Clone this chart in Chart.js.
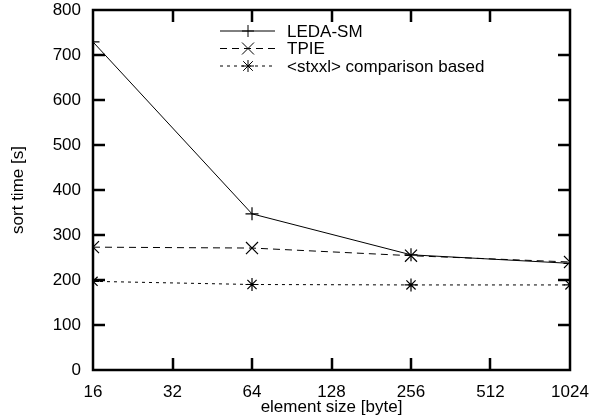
<!DOCTYPE html>
<html>
<head>
<meta charset="utf-8">
<script src="https://cdn.jsdelivr.net/npm/chart.js@4/dist/chart.umd.min.js"></script>
<style>
  html, body { margin: 0; padding: 0; background: #fff; }
  #wrap { width: 590px; height: 418px; }
</style>
</head>
<body>
<div id="wrap"><canvas id="c" width="590" height="418"></canvas></div>
<script>
const elementSizes = [16, 64, 256, 1024];
const xTicks = [16, 32, 64, 128, 256, 512, 1024];
const yTicks = [0, 100, 200, 300, 400, 500, 600, 700, 800];
const ledaSm = [729, 347, 256, 237];
const tpie = [273, 271, 254, 240];
const stxxl = [197, 190, 189, 189];

const FONT = "'Liberation Sans', Arial, Helvetica, sans-serif";

const series = [
  { label: "LEDA-SM", data: ledaSm, dash: [], style: "cross", radius: 6.5 },
  { label: "TPIE", data: tpie, dash: [7, 5], style: "crossRot", radius: 8.5 },
  { label: "<stxxl> comparison based", data: stxxl, dash: [3, 4], style: "star", radius: 6.5 },
];

function drawMarker(ctx, style, x, y, r) {
  ctx.beginPath();
  if (style === "cross" || style === "star") {
    ctx.moveTo(x - r, y); ctx.lineTo(x + r, y);
    ctx.moveTo(x, y - r); ctx.lineTo(x, y + r);
  }
  if (style === "crossRot" || style === "star") {
    const d = style === "star" ? r * 0.8 : r;
    ctx.moveTo(x - d, y - d); ctx.lineTo(x + d, y + d);
    ctx.moveTo(x - d, y + d); ctx.lineTo(x + d, y - d);
  }
  ctx.stroke();
}

// frame with inward ticks on all four sides, plus the key
const framePlugin = {
  id: "frame",
  afterDraw(chart) {
    const ctx = chart.ctx;
    const a = chart.chartArea;
    const xs = chart.scales.x;
    const ys = chart.scales.y;
    const L = Math.round(a.left), R = Math.round(a.right);
    const T = Math.round(a.top), B = Math.round(a.bottom);
    const t = 12;
    ctx.save();
    ctx.setLineDash([]);
    ctx.strokeStyle = "#000";
    ctx.lineWidth = 2.5;
    ctx.lineCap = "butt";
    ctx.beginPath();
    ctx.rect(L, T, R - L, B - T);
    for (const v of yTicks) {
      const y = Math.round(ys.getPixelForValue(v));
      ctx.moveTo(L, y); ctx.lineTo(L + t, y);
      ctx.moveTo(R, y); ctx.lineTo(R - t, y);
    }
    for (const v of xTicks) {
      const x = Math.round(xs.getPixelForValue(v));
      ctx.moveTo(x, B); ctx.lineTo(x, B - t);
      ctx.moveTo(x, T); ctx.lineTo(x, T + t);
    }
    ctx.stroke();

    // key
    const x0 = 220, x1 = 275, xm = 248, xt = 287;
    const rows = [31, 48.5, 66];
    ctx.font = "17px " + FONT;
    ctx.textBaseline = "middle";
    ctx.textAlign = "left";
    ctx.fillStyle = "#000";
    series.forEach((s, i) => {
      const y = rows[i];
      ctx.lineWidth = 1;
      ctx.setLineDash(s.dash);
      ctx.beginPath();
      ctx.moveTo(x0, y); ctx.lineTo(x1, y);
      ctx.stroke();
      ctx.setLineDash([]);
      drawMarker(ctx, s.style, xm, y, 6);
      ctx.fillText(s.label, xt, y + 1);
    });
    ctx.restore();
  },
};

new Chart(document.getElementById("c"), {
  type: "line",
  data: {
    datasets: series.map((s) => ({
      label: s.label,
      data: elementSizes.map((x, i) => ({ x: x, y: s.data[i] })),
      borderColor: "#000",
      backgroundColor: "#000",
      borderWidth: 1,
      borderDash: s.dash,
      pointStyle: s.style,
      pointRadius: s.radius,
      pointBorderWidth: 1.2,
      pointBorderColor: "#000",
      tension: 0,
      fill: false,
    })),
  },
  options: {
    responsive: false,
    animation: false,
    events: [],
    layout: { padding: { left: 0, right: 20, top: 10, bottom: 0 } },
    plugins: { legend: { display: false }, tooltip: { enabled: false } },
    scales: {
      x: {
        type: "logarithmic",
        min: 16,
        max: 1024,
        afterBuildTicks: (scale) => {
          scale.ticks = xTicks.map((v) => ({ value: v }));
        },
        afterFit: (scale) => {
          scale.height = 48;
          scale.paddingLeft = 0;
          scale.paddingRight = 0;
        },
        grid: { display: false, drawTicks: false },
        border: { display: false },
        ticks: {
          padding: 12,
          color: "#000",
          maxRotation: 0,
          autoSkip: false,
          font: { family: FONT, size: 17 },
          callback: (v) => String(v),
        },
        title: {
          display: true,
          text: "element size [byte]",
          color: "#000",
          font: { family: FONT, size: 17 },
          padding: { top: 0, bottom: 0 },
        },
      },
      y: {
        min: 0,
        max: 800,
        afterFit: (scale) => {
          scale.width = 93;
          scale.paddingTop = 0;
          scale.paddingBottom = 0;
        },
        grid: { display: false, drawTicks: false },
        border: { display: false },
        ticks: {
          stepSize: 100,
          padding: 12,
          color: "#000",
          font: { family: FONT, size: 17 },
        },
        title: {
          display: true,
          text: "sort time [s]",
          color: "#000",
          font: { family: FONT, size: 17 },
          padding: { top: 8, bottom: 0 },
        },
      },
    },
  },
  plugins: [framePlugin],
});
</script>
</body>
</html>
